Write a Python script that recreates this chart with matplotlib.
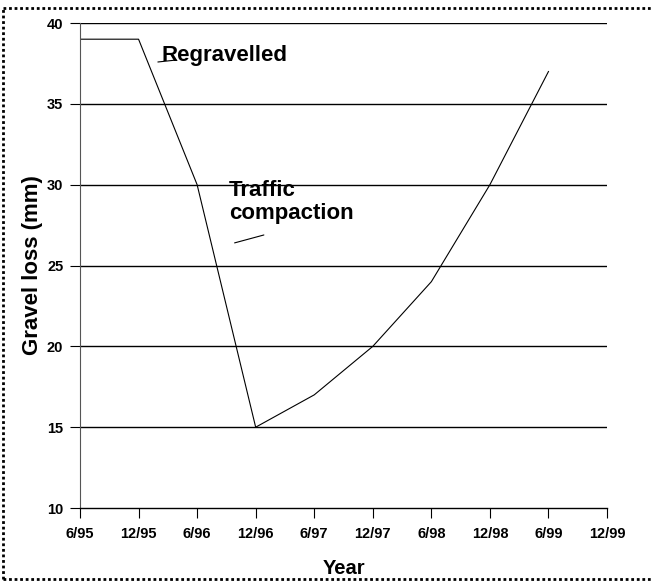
import matplotlib
matplotlib.use("Agg")
import matplotlib.pyplot as plt
from matplotlib.lines import Line2D

plt.rcParams['font.family'] = ['Liberation Sans', 'DejaVu Sans']

# Data
periods = ["6/95", "12/95", "6/96", "12/96", "6/97", "12/97", "6/98", "12/98", "6/99", "12/99"]
gravel_loss = [39, 39, 30, 15, 17, 20, 24, 30, 37]
y_ticks = [10, 15, 20, 25, 30, 35, 40]

fig = plt.figure(figsize=(6.53, 5.83), dpi=100)
ax = fig.add_axes([0.1225, 0.1286, 0.8071, 0.8319])

x = list(range(len(gravel_loss)))
ax.plot(x, gravel_loss, color='black', lw=0.8)

# horizontal gridlines
for yv in y_ticks[1:]:
    ax.axhline(yv, color='black', lw=1.0, zorder=0)

ax.set_xlim(0, len(periods) - 1)
ax.set_ylim(10, 40)
ax.set_xticks(range(len(periods)))
ax.set_xticklabels(periods)
ax.set_yticks(y_ticks)

for side in ['top', 'right']:
    ax.spines[side].set_visible(False)
ax.spines['left'].set_color('#555555')
ax.spines['left'].set_linewidth(0.8)
ax.spines['bottom'].set_linewidth(1.0)

ax.tick_params(axis='x', direction='out', length=7.5, width=0.8, pad=6,
               labelsize=10.5)
ax.tick_params(axis='y', direction='out', length=7, width=0.8, pad=5,
               labelsize=10.5)
for lbl in ax.get_xticklabels() + ax.get_yticklabels():
    lbl.set_fontweight('bold')

ax.set_xlabel("Year", fontsize=14.5, fontweight='bold', labelpad=13)
ax.set_ylabel("Gravel loss (mm)", fontsize=16, fontweight='bold', labelpad=3)

# annotations with short leader lines
ax.text(1.40, 37.65, "Regravelled", fontsize=16, fontweight='bold',
        va='baseline', ha='left')
ax.annotate("", xy=(1.64, 37.71), xytext=(1.33, 37.59),
            arrowprops=dict(arrowstyle='-', color='black', lw=0.8,
                            shrinkA=0, shrinkB=0))
ax.text(2.54, 30.3, "Traffic\ncompaction", fontsize=16, fontweight='bold',
        va='top', ha='left', linespacing=1.15)
ax.annotate("", xy=(3.14, 26.89), xytext=(2.64, 26.40),
            arrowprops=dict(arrowstyle='-', color='black', lw=0.8,
                            shrinkA=0, shrinkB=0))

# dotted frame around the figure (right edge falls outside the image)
W, H = 653, 583
left, top, bottom = 3 / W, 1 - 8 / H, 1 - 579 / H
frame_kw = dict(color='black', lw=2, linestyle=(0, (1, 1)), transform=fig.transFigure)
fig.add_artist(Line2D([left, 1.0], [top, top], **frame_kw))
fig.add_artist(Line2D([left, 1.0], [bottom, bottom], **frame_kw))
fig.add_artist(Line2D([left, left], [bottom, top], **frame_kw))

fig.savefig("out.png", dpi=100)
